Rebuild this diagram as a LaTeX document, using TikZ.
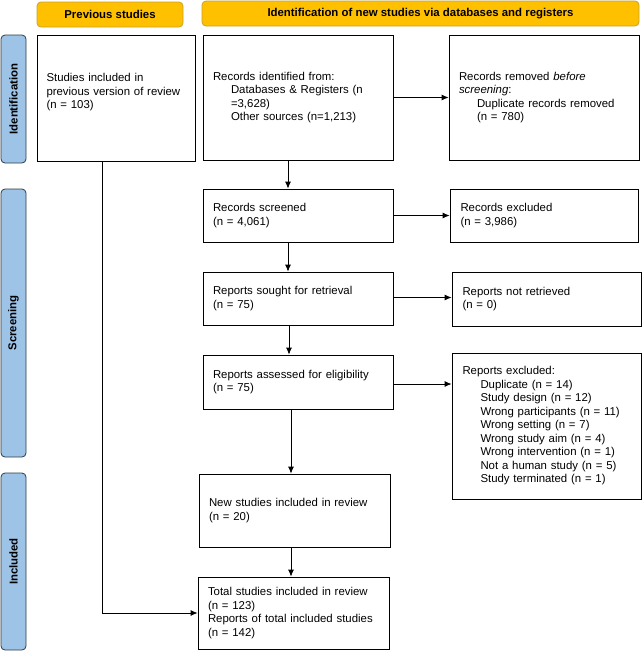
\documentclass[tikz,border=0pt]{standalone}
\usepackage{fontspec}
\setmainfont{Liberation Sans}
\usetikzlibrary{arrows.meta,calc}
\definecolor{hdrfill}{HTML}{FFC000}
\definecolor{hdrdraw}{HTML}{C9A227}
\definecolor{sidefill}{HTML}{9DC3E6}
\definecolor{sidedraw}{HTML}{2E3B4A}
\begin{document}
\begin{tikzpicture}[x=1pt,y=-1pt,
  every node/.style={font=\fontsize{11.4}{13.5}\selectfont},
  box/.style={draw=black, line width=0.8pt, fill=white, inner ysep=0pt, align=left},
  hdr/.style={draw=hdrdraw, fill=hdrfill, rounded corners=4pt, line width=0.8pt, inner sep=0pt,
    font=\fontsize{11.4}{13.5}\selectfont\bfseries},
  side/.style={draw=sidedraw, fill=sidefill, rounded corners=4pt, line width=0.8pt, inner sep=0pt,
    font=\fontsize{11.4}{13.5}\selectfont\bfseries},
  arr/.style={draw=black, line width=0.8pt, -{Latex[length=7pt,width=6pt]}}]
\useasboundingbox (0,0) rectangle (642,651);
\newcommand{\ind}{\hspace*{18pt}}
% headers
\node[hdr, minimum width=146pt, minimum height=25pt] (hprev) at (110,14.5) {Previous studies};
\node[hdr, minimum width=437pt, minimum height=25pt] (hnew) at (420.5,13.5) {Identification of new studies via databases and registers};
% side bars
\node[side, minimum width=128pt, minimum height=25pt, rotate=90] (sident) at (13.5,99) {Identification};
\node[side, minimum width=268pt, minimum height=25pt, rotate=90] (sscreen) at (13.5,323) {Screening};
\node[side, minimum width=177pt, minimum height=25pt, rotate=90] (sincl) at (13.5,561.5) {Included};
% boxes
\node[box, minimum height=126pt, text width=139pt, inner xsep=9.5pt] (prev) at (116,98)
  {Studies included in\\previous version of review\\(n = 103)\\\mbox{}};
\node[box, minimum height=125pt, text width=170pt, inner xsep=10pt] (ident) at (298,97.5)
  {Records identified from:\\\ind Databases \& Registers (n\\\ind =3,628)\\\ind Other sources (n=1,213)};
\node[box, minimum height=125pt, text width=170pt, inner xsep=10pt] (removed) at (544,97.5)
  {Records removed \textit{before}\\\textit{screening}:\\\ind Duplicate records removed\\\ind (n = 780)};
\node[box, minimum height=53pt, text width=170pt, inner xsep=10pt] (screened) at (298,215.5)
  {Records screened\\(n = 4,061)};
\node[box, minimum height=53pt, text width=167pt, inner xsep=10.5pt] (excl) at (544,215.5)
  {Records excluded\\(n = 3,986)};
\node[box, minimum height=53pt, text width=170pt, inner xsep=10pt] (sought) at (298,298.5)
  {Reports sought for retrieval\\(n = 75)};
\node[box, minimum height=54pt, text width=168pt, inner xsep=10.5pt] (notret) at (546.5,299)
  {Reports not retrieved\\(n = 0)};
\node[box, minimum height=54pt, text width=170pt, inner xsep=10pt] (assessed) at (298,382)
  {Reports assessed for eligibility\\(n = 75)};
\node[box, minimum height=146pt, text width=168pt, inner xsep=10.5pt] (repexcl) at (546.5,426)
  {Reports excluded:\\\ind Duplicate (n = 14)\\\ind Study design (n = 12)\\\ind Wrong participants (n = 11)\\\ind Wrong setting (n = 7)\\\ind Wrong study aim (n = 4)\\\ind Wrong intervention (n = 1)\\\ind Not a human study (n = 5)\\\ind Study terminated (n = 1)};
\node[box, minimum height=73pt, text width=171pt, inner xsep=10pt] (newst) at (294.5,510.5)
  {New studies included in review\\(n = 20)};
\node[box, minimum height=72pt, text width=171pt, inner xsep=10pt] (total) at (293.5,613)
  {Total studies included in review\\(n = 123)\\Reports of total included studies\\(n = 142)};
% connectors
\draw[arr] ([xshift=-10pt]ident.south) -- ([xshift=-10pt]screened.north);
\draw[arr] (ident.east) -- (ident.east -| removed.west);
\draw[arr] (screened.east) -- (screened.east -| excl.west);
\draw[arr] ([xshift=-10pt]screened.south) -- ([xshift=-10pt]sought.north);
\draw[arr] ([yshift=1pt]sought.east) -- ([yshift=1pt]sought.east -| notret.west);
\draw[arr] ([xshift=-9pt]sought.south) -- ([xshift=-9pt]assessed.north);
\draw[arr] ([yshift=-2pt]assessed.east) -- ([yshift=-2pt]assessed.east -| repexcl.west);
\draw[arr] ([xshift=-7pt]assessed.south) -- ([xshift=-7pt]assessed.south |- newst.north);
\draw[arr] ([xshift=-3.5pt]newst.south) -- ([xshift=-3.5pt]newst.south |- total.north);
\draw[arr] ([xshift=-14pt]prev.south) |- (total.west);
\end{tikzpicture}
\end{document}
